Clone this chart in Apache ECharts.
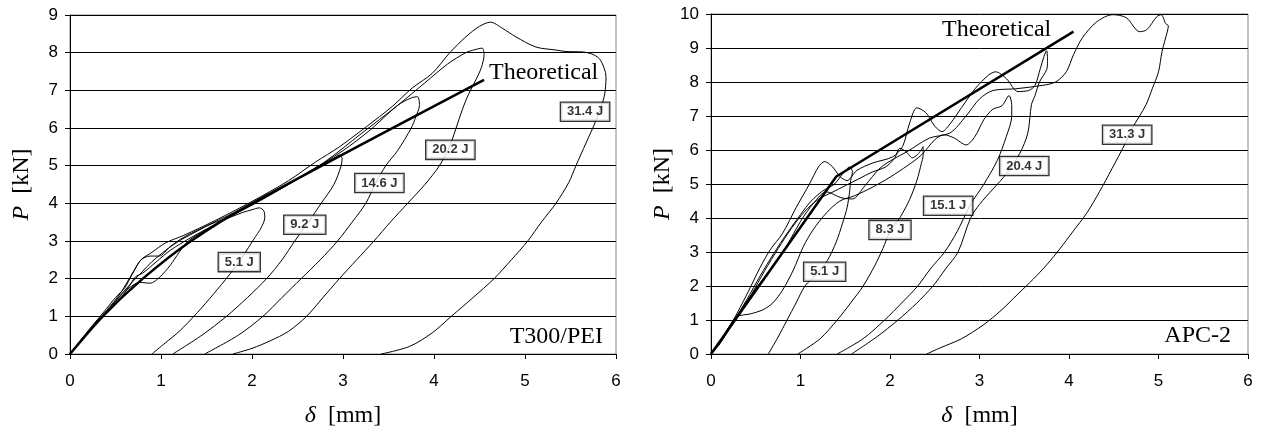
<!DOCTYPE html>
<html>
<head>
<meta charset="utf-8">
<script src="https://cdn.jsdelivr.net/npm/echarts@6/dist/echarts.min.js"></script>
<style>
  html, body { margin: 0; padding: 0; background: #fff; }
  #chart { width: 1266px; height: 432px; }
</style>
</head>
<body>
<div id="chart"></div>
<script>
// ---- data: [delta mm, P kN] ----
const xTicks = [0, 1, 2, 3, 4, 5, 6];

// T300/PEI (left)
const leftTheory = [[0, 0], [0.36, 1], [0.8, 2], [1.33, 3], [2.0, 4], [4.55, 7.28]];
const left51 = [[0, 0], [0.2, 0.6], [0.4, 1.1], [0.55, 1.55], [0.7, 1.95], [0.8, 2.2], [0.9, 2.45], [1.05, 2.75], [1.2, 3.0], [1.35, 3.2], [1.55, 3.45], [1.75, 3.62], [1.9, 3.76], [2.0, 3.83], [2.08, 3.88], [2.13, 3.8], [2.14, 3.62], [2.1, 3.35], [2.02, 3.05], [1.9, 2.6], [1.75, 2.1], [1.58, 1.6], [1.4, 1.1], [1.2, 0.6], [1.05, 0.3], [0.9, 0]];
const left92 = [[0, 0], [0.2, 0.58], [0.4, 1.12], [0.6, 1.65], [0.77, 1.9], [0.88, 1.88], [0.99, 2.05], [1.1, 2.35], [1.2, 2.7], [1.3, 3.0], [1.5, 3.3], [1.8, 3.7], [2.1, 4.1], [2.4, 4.5], [2.7, 4.95], [2.9, 5.2], [2.96, 5.28], [2.99, 5.2], [2.98, 5.0], [2.9, 4.5], [2.76, 4.0], [2.62, 3.5], [2.47, 3.0], [2.33, 2.5], [2.16, 2.0], [1.95, 1.5], [1.72, 1.0], [1.45, 0.5], [1.13, 0]];
const left146 = [[0, 0], [0.2, 0.6], [0.4, 1.15], [0.55, 1.6], [0.7, 2.2], [0.78, 2.5], [0.88, 2.6], [0.98, 2.6], [1.1, 2.85], [1.25, 3.1], [1.5, 3.4], [1.8, 3.75], [2.2, 4.25], [2.6, 4.8], [3.0, 5.4], [3.3, 5.95], [3.6, 6.6], [3.75, 6.8], [3.82, 6.83], [3.84, 6.6], [3.8, 6.3], [3.75, 6.0], [3.6, 5.4], [3.47, 5.0], [3.36, 4.54], [3.25, 4.0], [3.1, 3.5], [2.94, 3.0], [2.75, 2.5], [2.54, 2.0], [2.33, 1.5], [2.12, 1.0], [1.85, 0.5], [1.48, 0]];
const left202 = [[0, 0], [0.2, 0.6], [0.4, 1.12], [0.55, 1.45], [0.65, 1.8], [0.72, 2.05], [0.8, 2.15], [0.95, 2.45], [1.1, 2.75], [1.3, 3.05], [1.6, 3.45], [2.0, 3.95], [2.4, 4.5], [2.8, 5.1], [3.2, 5.85], [3.6, 6.6], [3.9, 7.2], [4.15, 7.7], [4.35, 8.0], [4.45, 8.08], [4.53, 8.12], [4.55, 7.95], [4.52, 7.6], [4.46, 7.28], [4.38, 6.9], [4.31, 6.48], [4.17, 5.5], [4.06, 5.0], [3.9, 4.5], [3.71, 4.0], [3.52, 3.5], [3.34, 3.0], [3.15, 2.5], [2.96, 2.0], [2.78, 1.5], [2.6, 1.0], [2.4, 0.6], [2.2, 0.35], [2.0, 0.15], [1.79, 0]];
const left314 = [[0, 0], [0.2, 0.62], [0.4, 1.2], [0.5, 1.5], [0.6, 1.75], [0.68, 2.1], [0.78, 2.5], [0.9, 2.7], [1.05, 2.95], [1.25, 3.15], [1.6, 3.55], [2.0, 4.05], [2.4, 4.6], [2.7, 5.1], [2.96, 5.5], [3.26, 6.04], [3.54, 6.57], [3.76, 7.06], [3.98, 7.45], [4.17, 7.99], [4.35, 8.42], [4.5, 8.7], [4.62, 8.81], [4.75, 8.65], [4.9, 8.42], [5.12, 8.15], [5.34, 8.07], [5.45, 8.03], [5.63, 8.02], [5.75, 7.95], [5.83, 7.8], [5.89, 7.36], [5.87, 6.83], [5.78, 6.2], [5.67, 5.6], [5.56, 5.0], [5.48, 4.55], [5.34, 4.0], [5.18, 3.5], [5.03, 3.0], [4.85, 2.5], [4.66, 2.0], [4.43, 1.5], [4.19, 1.0], [3.98, 0.56], [3.73, 0.2], [3.42, 0]];
const leftLabels = [[1.86, 2.44, '5.1 J'], [2.58, 3.43, '9.2 J'], [3.4, 4.54, '14.6 J'], [4.18, 5.42, '20.2 J'], [5.66, 6.43, '31.4 J']];

// APC-2 (right)
const rightTheory = [[0, 0], [1.4, 5.22], [4.05, 9.48]];
const right51 = [[0, 0], [0.1, 0.3], [0.25, 0.95], [0.4, 1.6], [0.55, 2.3], [0.7, 2.95], [0.85, 3.55], [1.0, 4.1], [1.12, 4.5], [1.25, 4.8], [1.38, 5.0], [1.47, 5.3], [1.55, 5.5], [1.58, 5.35], [1.56, 5.1], [1.55, 4.8], [1.52, 4.3], [1.47, 3.85], [1.4, 3.3], [1.3, 2.75], [1.18, 2.35], [1.05, 2.0], [0.95, 1.5], [0.85, 1.0], [0.75, 0.5], [0.64, 0]];
const right83 = [[0, 0], [0.12, 0.4], [0.3, 1.1], [0.45, 1.75], [0.6, 2.45], [0.75, 3.1], [0.9, 3.7], [1.05, 4.2], [1.2, 4.55], [1.35, 4.75], [1.5, 4.95], [1.65, 5.15], [1.8, 5.35], [1.95, 5.5], [2.05, 5.75], [2.11, 6.05], [2.18, 5.95], [2.25, 5.77], [2.32, 5.9], [2.37, 6.1], [2.37, 5.85], [2.35, 5.6], [2.3, 5.1], [2.22, 4.55], [2.12, 4.05], [2.0, 3.6], [1.92, 3.1], [1.83, 2.6], [1.7, 2.0], [1.56, 1.5], [1.41, 1.0], [1.22, 0.45], [0.97, 0]];
const right151 = [[0, 0], [0.1, 0.35], [0.2, 0.8], [0.29, 1.1], [0.44, 1.18], [0.58, 1.3], [0.69, 1.5], [0.8, 1.88], [0.92, 2.47], [1.03, 3.15], [1.14, 3.65], [1.29, 4.15], [1.44, 4.5], [1.6, 4.65], [1.8, 4.9], [2.0, 5.2], [2.2, 5.55], [2.35, 5.85], [2.5, 6.3], [2.6, 6.45], [2.72, 6.35], [2.85, 6.15], [2.95, 6.4], [3.05, 6.9], [3.15, 7.2], [3.25, 7.3], [3.33, 7.6], [3.36, 7.3], [3.36, 7.0], [3.3, 6.4], [3.2, 5.7], [3.05, 5.0], [2.9, 4.4], [2.75, 3.6], [2.61, 3.0], [2.45, 2.5], [2.31, 2.0], [2.13, 1.5], [1.94, 1.0], [1.7, 0.45], [1.41, 0]];
const right204 = [[0, 0], [0.1, 0.35], [0.25, 1.0], [0.4, 1.75], [0.55, 2.55], [0.66, 3.06], [0.8, 3.55], [0.95, 4.3], [1.1, 5.0], [1.2, 5.5], [1.27, 5.66], [1.36, 5.5], [1.44, 5.22], [1.52, 5.1], [1.63, 5.4], [1.81, 5.62], [2.03, 5.8], [2.14, 6.1], [2.22, 6.8], [2.3, 7.24], [2.4, 7.1], [2.5, 6.7], [2.58, 6.54], [2.68, 6.8], [2.8, 7.25], [2.95, 7.8], [3.1, 8.2], [3.18, 8.3], [3.3, 8.1], [3.43, 7.72], [3.55, 7.75], [3.62, 7.9], [3.68, 8.4], [3.72, 8.75], [3.75, 8.92], [3.76, 8.6], [3.75, 8.36], [3.67, 8.0], [3.62, 7.6], [3.58, 7.33], [3.54, 6.5], [3.45, 5.9], [3.3, 5.3], [3.15, 4.85], [3.0, 4.4], [2.9, 4.0], [2.76, 3.0], [2.62, 2.5], [2.48, 2.0], [2.3, 1.5], [2.09, 1.0], [1.85, 0.5], [1.57, 0]];
const right313 = [[0, 0], [0.12, 0.4], [0.25, 0.95], [0.4, 1.55], [0.55, 2.1], [0.7, 2.6], [0.85, 3.2], [1.0, 3.9], [1.15, 4.45], [1.29, 4.77], [1.45, 4.6], [1.58, 4.56], [1.72, 4.95], [1.89, 5.47], [2.05, 5.75], [2.19, 5.95], [2.44, 6.35], [2.67, 6.5], [2.85, 7.0], [3.0, 7.5], [3.15, 7.75], [3.4, 7.8], [3.7, 7.9], [3.85, 8.0], [3.97, 8.3], [4.05, 8.8], [4.15, 9.3], [4.31, 9.77], [4.49, 9.98], [4.64, 9.89], [4.79, 9.48], [4.87, 9.54], [4.98, 9.92], [5.03, 9.98], [5.08, 9.72], [5.11, 9.65], [5.1, 9.5], [5.04, 8.9], [5.0, 8.3], [4.93, 7.8], [4.86, 7.33], [4.71, 6.65], [4.62, 6.15], [4.48, 5.45], [4.34, 4.77], [4.2, 4.15], [4.04, 3.59], [3.9, 3.1], [3.75, 2.62], [3.6, 2.2], [3.42, 1.74], [3.24, 1.28], [3.04, 0.85], [2.8, 0.45], [2.56, 0.18], [2.41, 0]];
const rightLabels = [[1.27, 2.42, '5.1 J'], [2.0, 3.65, '8.3 J'], [2.65, 4.36, '15.1 J'], [3.5, 5.53, '20.4 J'], [4.65, 6.45, '31.3 J']];

const chart = echarts.init(document.getElementById('chart'));

const serif = 'Liberation Serif';
const sans = 'Liberation Sans';

function curve(data, idx, width, smooth) {
  return {
    type: 'line', xAxisIndex: idx, yAxisIndex: idx, data: data,
    symbol: 'none', smooth: smooth, silent: true,
    lineStyle: { color: '#000', width: width }
  };
}

function labels(list, idx) {
  return {
    type: 'scatter', xAxisIndex: idx, yAxisIndex: idx, symbolSize: 0, silent: true, z: 5,
    data: list.map(d => ({ value: [d[0], d[1]], name: d[2] })),
    label: {
      show: true, position: 'inside', formatter: '{b}',
      fontFamily: sans, fontWeight: 'bold', fontSize: 13, color: '#000',
      backgroundColor: '#fff', borderColor: '#000', borderWidth: 1.3, padding: [3, 6, 2, 6]
    }
  };
}

const nameStyle = {
  fontFamily: serif, fontSize: 24, color: '#000',
  rich: { i: { fontFamily: serif, fontStyle: 'italic', fontSize: 24, color: '#000' } }
};

function xAx(idx) {
  return {
    type: 'value', gridIndex: idx, min: 0, max: 6, interval: 1,
    name: '{i|δ}  [mm]', nameLocation: 'middle', nameGap: 50, nameTextStyle: nameStyle,
    axisLine: { lineStyle: { color: '#000', width: 1 } },
    axisTick: { show: true, length: 5, lineStyle: { color: '#000' } },
    axisLabel: { fontFamily: sans, fontSize: 17, color: '#000', margin: 19, formatter: v => xTicks.includes(v) ? String(v) : '' },
    splitLine: { show: false }
  };
}

function yAx(idx, max) {
  return {
    type: 'value', gridIndex: idx, min: 0, max: max, interval: 1,
    name: '{i|P}  [kN]', nameLocation: 'middle', nameGap: 36, nameRotate: 90, nameTextStyle: nameStyle,
    axisLine: { show: true, lineStyle: { color: '#000', width: 1 } },
    axisTick: { show: true, length: 5, lineStyle: { color: '#000' } },
    axisLabel: { fontFamily: sans, fontSize: 17, color: '#000', margin: 12 },
    splitLine: { show: true, lineStyle: { color: '#000', width: 1 } }
  };
}

function txt(x, y, text, align) {
  return {
    type: 'text', x: x, y: y, silent: true,
    style: { text: text, font: '24px "Liberation Serif"', fill: '#000', align: align, verticalAlign: 'middle' }
  };
}

chart.setOption({
  animation: false,
  backgroundColor: '#fff',
  grid: [
    { left: 70, top: 15, width: 546, height: 339, show: true, borderColor: '#888', borderWidth: 1, outerBoundsMode: 'none', containLabel: false },
    { left: 711, top: 14, width: 537, height: 340, show: true, borderColor: '#888', borderWidth: 1, outerBoundsMode: 'none', containLabel: false }
  ],
  xAxis: [xAx(0), xAx(1)],
  yAxis: [yAx(0, 9), yAx(1, 10)],
  graphic: [
    txt(489, 73, 'Theoretical', 'left'),
    txt(603, 337, 'T300/PEI', 'right'),
    txt(942, 30, 'Theoretical', 'left'),
    txt(1231, 336, 'APC-2', 'right')
  ],
  series: [
    curve(left51, 0, 1, 0.3), curve(left92, 0, 1, 0.3), curve(left146, 0, 1, 0.3), curve(left202, 0, 1, 0.3), curve(left314, 0, 1, 0.3),
    curve(leftTheory, 0, 2.5, 0.3),
    labels(leftLabels, 0),
    curve(right51, 1, 1, 0.3), curve(right83, 1, 1, 0.3), curve(right151, 1, 1, 0.3), curve(right204, 1, 1, 0.3), curve(right313, 1, 1, 0.3),
    curve(rightTheory, 1, 2.5, false),
    labels(rightLabels, 1)
  ]
});
</script>
</body>
</html>
